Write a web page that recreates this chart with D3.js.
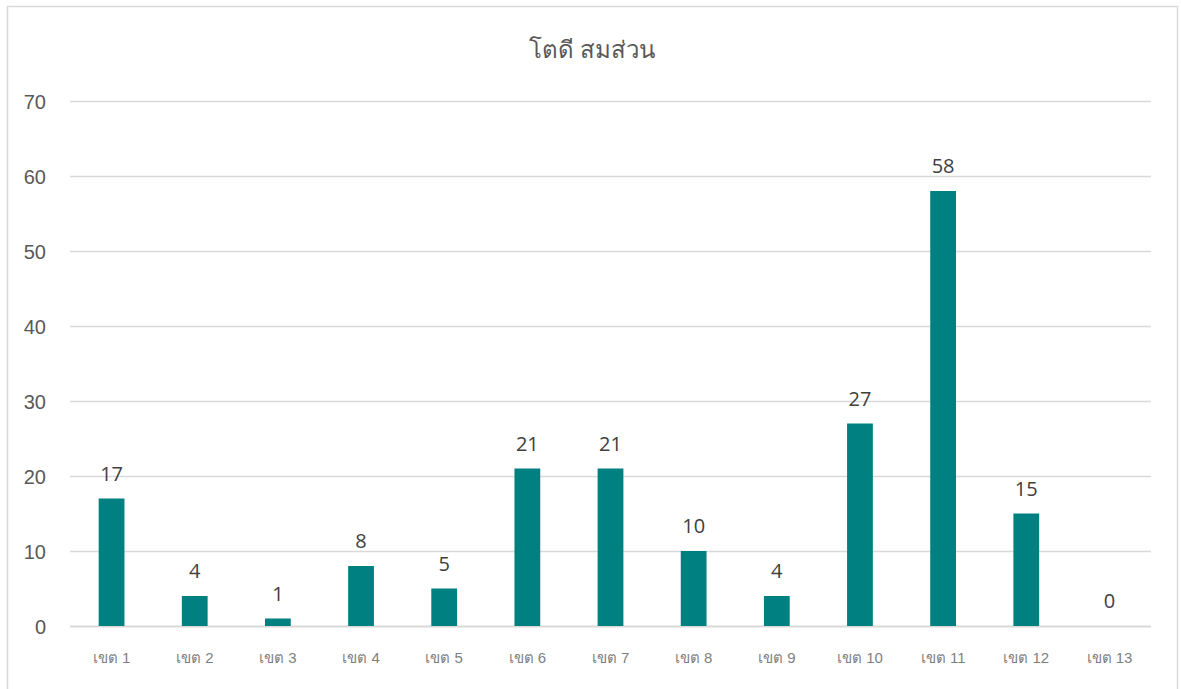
<!DOCTYPE html>
<html><head><meta charset="utf-8">
<script src="https://cdn.jsdelivr.net/npm/d3@7"></script>
<style>body{margin:0;background:#fff;font-family:"Open Sans","Noto Sans",sans-serif;}</style>
</head><body><svg id="c" width="1181" height="689"></svg>
<script>
(function(){
const title = "โตดี สมส่วน";
const categories = ["เขต 1","เขต 2","เขต 3","เขต 4","เขต 5","เขต 6","เขต 7","เขต 8","เขต 9","เขต 10","เขต 11","เขต 12","เขต 13"];
const values = [17,4,1,8,5,21,21,10,4,27,58,15,0];
const yTicks = [0,10,20,30,40,50,60,70];

const svg = d3.select("#c");
svg.append("rect").attr("x",7.5).attr("y",6.5).attr("width",1170).attr("height",690)
  .attr("fill","#fff").attr("stroke","#d9d9d9").attr("stroke-width",1.5);

const pL=70, pR=1151, pT=101, pB=626;
const x = d3.scaleBand().domain(categories).range([pL,pR]).padding(0);
const y = d3.scaleLinear().domain([0,70]).range([pB,pT]);
const barW = x.bandwidth()*0.31;

svg.append("g").selectAll("line").data(yTicks).join("line")
  .attr("x1",pL).attr("x2",pR).attr("y1",d=>y(d)+0.5).attr("y2",d=>y(d)+0.5)
  .attr("stroke","#d9d9d9").attr("stroke-width",d=>d===0?2:1.5);

const yAxis = d3.axisLeft(y).tickValues(yTicks).tickSize(0).tickPadding(0);
const gy = svg.append("g").attr("transform",`translate(${pL-24},0)`).call(yAxis);
gy.select(".domain").remove();
gy.selectAll("text").attr("font-size",20).attr("fill","#595959").attr("dy","0.35em");

svg.append("g").selectAll("rect").data(values).join("rect")
  .attr("x",(d,i)=>x(categories[i])+x.bandwidth()/2-barW/2)
  .attr("width",barW)
  .attr("y",d=>y(d)).attr("height",d=>y(0)-y(d))
  .attr("fill","#008080");

svg.append("g").selectAll("text").data(values).join("text")
  .attr("x",(d,i)=>x(categories[i])+x.bandwidth()/2)
  .attr("y",d=>y(d)-18)
  .attr("text-anchor","middle").attr("font-size",20).attr("fill","#404040")
  .text(d=>d);

const xAxis = d3.axisBottom(x).tickSize(0).tickPadding(0);
const gx = svg.append("g").attr("transform",`translate(0,${pB+32})`).call(xAxis);
gx.select(".domain").remove();
gx.selectAll("text").attr("font-size",15).attr("fill","#7f7f7f").attr("dy","0.35em");

svg.append("text").attr("x",592).attr("y",58).attr("text-anchor","middle")
  .attr("font-size",24).attr("fill","#595959").text(title);
})();
</script></body></html>
